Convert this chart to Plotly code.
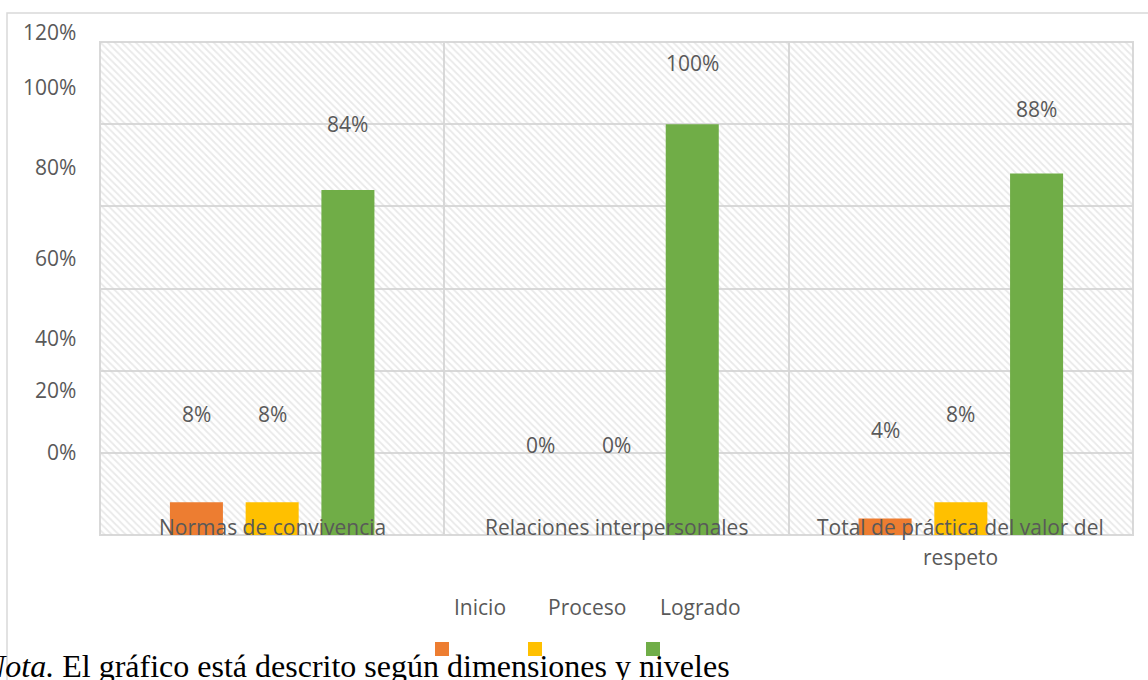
import plotly.graph_objects as go

categories = ["Normas de convivencia", "Relaciones interpersonales", "Total de práctica del valor del<br>respeto"]
series_names = ["Inicio", "Proceso", "Logrado"]
inicio = [0.08, 0.00, 0.04]
proceso = [0.08, 0.00, 0.08]
logrado = [0.84, 1.00, 0.88]
y_tick_labels = ["120%", "100%", "80%", "60%", "40%", "20%", "0%"]
note_italic = "Nota."
note_text = " El gráfico está descrito según dimensiones y niveles"

colors = ["#ED7D31", "#FFC000", "#70AD47"]
series = [inicio, proceso, logrado]

W, H = 1148, 680
ML, MR, MT, MB = 100, 15, 42, 145
PW, PH = W - ML - MR, H - MT - MB
YMAX = 1.2
FONT = "Open Sans"
FS = 21
TXT = "#595959"
GRID = "#d9d9d9"


def py(pix):  # page pixel y -> paper y
    return (H - MB - pix) / PH


def px(pix):  # page pixel x -> paper x
    return (pix - ML) / PW


fig = go.Figure()

# hatched plot-area background
fig.add_trace(go.Bar(
    x=[0.5], y=[YMAX], width=[1], xaxis="x", yaxis="y",
    marker=dict(color="rgba(255,255,255,0)", line=dict(width=0),
                pattern=dict(shape="\\", fgcolor="#d4d4d4", bgcolor="rgba(255,255,255,0)",
                             size=5, solidity=0.35, fillmode="overlay")),
    showlegend=False, hoverinfo="skip"))

xcat = list(range(len(categories)))
for name, vals, col in zip(series_names, series, colors):
    fig.add_trace(go.Bar(x=xcat, y=vals, name=name, xaxis="x2", yaxis="y2",
                         marker=dict(color=col, line=dict(width=0)), showlegend=False))

ann = []
# data labels (displaced as in the reference)
slot = (1 - 0.34) / 3
for k, vals in enumerate(series):
    for i, v in enumerate(vals):
        ann.append(dict(x=i + (k - 1) * slot, y=(0.93 * v + 0.219) / YMAX, xref="x2", yref="paper",
                        text=f"{round(v * 100)}%", showarrow=False, yanchor="middle",
                        font=dict(family=FONT, size=FS, color=TXT)))

# y tick labels
ytick_pix = [32, 87, 167, 258, 338, 390, 452]
for lab, p in zip(y_tick_labels, ytick_pix):
    ann.append(dict(x=0, xshift=-22, y=py(p), xref="paper", yref="paper", text=lab,
                    xanchor="right", yanchor="middle", showarrow=False,
                    font=dict(family=FONT, size=FS, color=TXT)))

# category labels
for i, c in enumerate(categories):
    for j, line in enumerate(c.split("<br>")):
        ann.append(dict(x=i, y=py(527 + 30 * j), xref="x2", yref="paper", text=line,
                        showarrow=False, yanchor="middle",
                        font=dict(family=FONT, size=FS, color=TXT)))

# legend (texts and swatches)
leg_text_x = [480, 587, 700]
leg_sw_x = [442, 535, 653]
shapes = []
for name, col, tx, sx in zip(series_names, colors, leg_text_x, leg_sw_x):
    ann.append(dict(x=px(tx), y=py(607), xref="paper", yref="paper", text=name,
                    showarrow=False, yanchor="middle",
                    font=dict(family=FONT, size=FS, color=TXT)))
    shapes.append(dict(type="rect", xref="paper", yref="paper", xsizemode="pixel", ysizemode="pixel",
                       xanchor=px(sx), yanchor=py(649), x0=-7, x1=7, y0=-7, y1=7,
                       fillcolor=col, line=dict(width=0)))

# note
ann.append(dict(x=px(-19), y=py(666), xref="paper", yref="paper",
                text=f"<i>{note_italic}</i>{note_text}", showarrow=False,
                xanchor="left", yanchor="middle",
                font=dict(family="Liberation Serif", size=32, color="#000000")))

# plot-area border and outer chart border
shapes.append(dict(type="rect", xref="paper", yref="paper", x0=0, x1=1, y0=0, y1=1,
                   line=dict(color=GRID, width=2), layer="below"))
shapes.append(dict(type="rect", xref="paper", yref="paper", x0=px(7), x1=px(1160), y0=py(700), y1=py(13),
                   line=dict(color=GRID, width=1.5), layer="below"))

fig.update_layout(
    width=W, height=H, margin=dict(l=ML, r=MR, t=MT, b=MB),
    paper_bgcolor="white", plot_bgcolor="white",
    barmode="group", bargap=0.34, bargroupgap=0.3,
    showlegend=False,
    xaxis=dict(range=[0, 1], visible=False, fixedrange=True),
    yaxis=dict(range=[0, YMAX], dtick=0.2, showgrid=True, gridcolor=GRID, gridwidth=2,
               zeroline=True, zerolinecolor=GRID, zerolinewidth=2, showticklabels=False, ticks=""),
    xaxis2=dict(overlaying="x", type="linear", range=[-0.5, 2.5], tickvals=[-0.5, 0.5, 1.5, 2.5],
                showgrid=True, gridcolor=GRID, gridwidth=2, showticklabels=False, ticks="",
                zeroline=False),
    yaxis2=dict(overlaying="y", range=[0, YMAX], visible=False),
    annotations=ann, shapes=shapes,
)

fig.write_html("out.html", config={"displayModeBar": False},
               post_script="document.body.style.margin='0';document.body.style.overflow='hidden';")
